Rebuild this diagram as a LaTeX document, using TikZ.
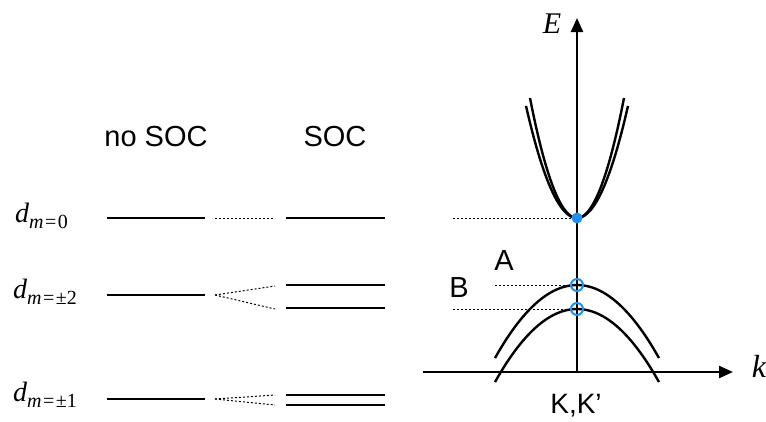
\documentclass[tikz,border=0pt]{standalone}
\usepackage{fontspec}
\setmainfont{Liberation Sans}
\newfontfamily\serifit{Liberation Serif}[ItalicFont=* Italic]
\usetikzlibrary{arrows.meta}
\definecolor{dotblue}{RGB}{30,144,240}
\tikzset{
  level/.style={line width=2.6pt},
  guide/.style={line width=1pt, dash pattern=on 2pt off 2pt},
  band/.style={line width=2.4pt},
  axis/.style={line width=2.4pt, -{Triangle[length=14pt,width=12pt]}},
  lbl/.style={inner sep=0pt, font=\fontsize{29}{32}\selectfont},
  dlab/.style={inner sep=0pt, anchor=base west},
}
\newcommand{\dlevel}[1]{{\serifit\fontsize{28}{30}\selectfont\itshape d}\raisebox{-6pt}{\serifit\fontsize{20}{22}\selectfont\itshape m\upshape\hspace{1.5pt}=\hspace{1.5pt}#1}}
\begin{document}
\begin{tikzpicture}[x=1pt,y=-1pt]
\useasboundingbox (0,0) rectangle (766,421);
% headers
\node[lbl, anchor=base] (noSOC) at (156,146) {no SOC};
\node[lbl, anchor=base] (SOC) at (335,146) {SOC};
% labels
\node[dlab] (d0) at (15,222) {\dlevel{0}};
\node[dlab] (d2) at (13,298) {\dlevel{±2}};
\node[dlab] (d1) at (13,401) {\dlevel{±1}};
% level coordinates
\coordinate (a0) at (107,218); \coordinate (b0) at (205,218);
\coordinate (a2) at (107,295); \coordinate (b2) at (205,295);
\coordinate (a1) at (107,399); \coordinate (b1) at (205,399);
\coordinate (c0) at (286,218); \coordinate (e0) at (385,218);
\coordinate (c2u) at (286,285); \coordinate (e2u) at (385,285);
\coordinate (c2l) at (286,308); \coordinate (e2l) at (385,308);
\coordinate (c1u) at (286,395); \coordinate (e1u) at (385,395);
\coordinate (c1l) at (286,405); \coordinate (e1l) at (385,405);
\draw[level] (a0) -- (b0);
\draw[level] (a2) -- (b2);
\draw[level] (a1) -- (b1);
\draw[level] (c0) -- (e0);
\draw[level] (c2u) -- (e2u);
\draw[level] (c2l) -- (e2l);
\draw[level] (c1u) -- (e1u);
\draw[level] (c1l) -- (e1l);
% guides between levels
\coordinate (g0a) at (215,218); \coordinate (g0b) at (275,218);
\coordinate (g2a) at (215,295); \coordinate (g2u) at (275,286); \coordinate (g2l) at (275,309);
\coordinate (g1a) at (215,399); \coordinate (g1u) at (275,395); \coordinate (g1l) at (275,405);
\draw[guide] (g0a) -- (g0b);
\draw[guide] (g2a) -- (g2u);
\draw[guide] (g2a) -- (g2l);
\draw[guide] (g1a) -- (g1u);
\draw[guide] (g1a) -- (g1l);
% band diagram axes
\coordinate (O) at (577,373);
\coordinate (Etop) at (577,18);
\coordinate (kleft) at (423,372);
\coordinate (kright) at (733,372);
\draw[axis] (O) -- (Etop);
\draw[axis] (kleft) -- (kright);
\node[inner sep=0pt, anchor=base, font=\serifit\fontsize{30}{32}\selectfont\itshape] (E) at (552,33) {E};
\node[inner sep=0pt, anchor=base, font=\serifit\fontsize{32}{34}\selectfont\itshape] (k) at (759,377) {k};
\node[inner sep=0pt, anchor=base, font=\fontsize{28}{30}\selectfont] (KK) at (576,413) {K,K’};
% conduction bands
\draw[band] plot[domain=-51:51, samples=60] ({577+\x},{218-0.0431*\x*\x});
\draw[band] plot[domain=-47:47, samples=60] ({577+\x},{218-0.0543*\x*\x});
% valence bands
\draw[band] plot[domain=-82:82, samples=60] ({577+\x},{285+0.01086*\x*\x});
\draw[band] plot[domain=-82:82, samples=60] ({577+\x},{309+0.01086*\x*\x});
% guides to band edges
\coordinate (h0) at (453,218);
\coordinate (hA) at (495,285);
\coordinate (hB) at (453,309);
\coordinate (pC) at (577,218);
\coordinate (pA) at (577,285);
\coordinate (pB) at (577,309);
\draw[guide] (h0) -- (pC);
\draw[guide] (hA) -- (pA);
\draw[guide] (hB) -- (pB);
\fill[dotblue] (pC) circle (5.5);
\draw[dotblue, line width=2pt] (pA) circle (6);
\draw[dotblue, line width=2pt] (pB) circle (6);
\node[lbl] (A) at (504,261) {A};
\node[lbl] (B) at (459,288) {B};
\end{tikzpicture}
\end{document}
